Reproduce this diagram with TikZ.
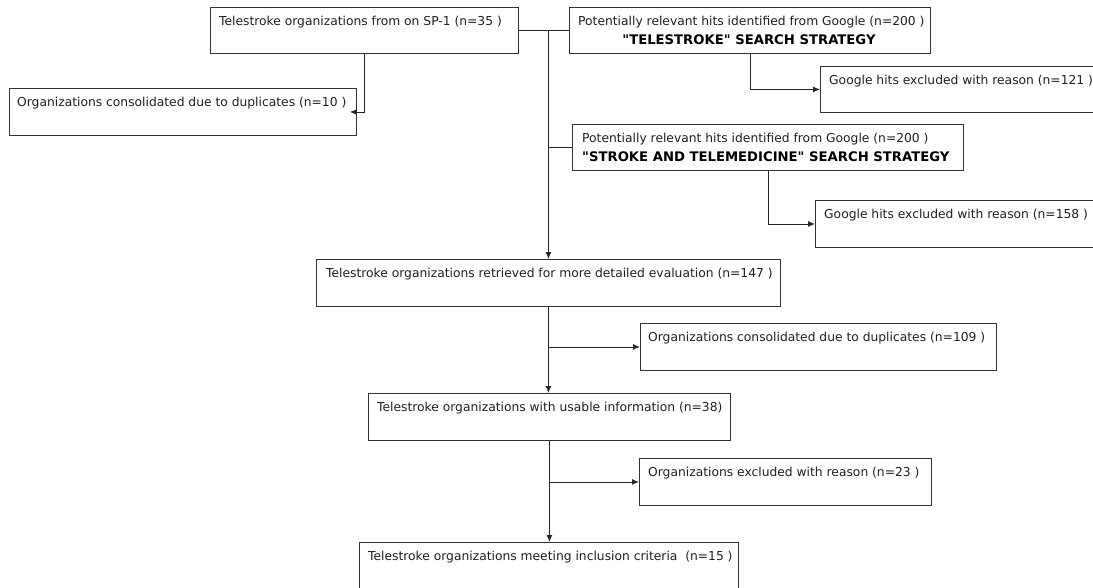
\documentclass[tikz,border=0pt]{standalone}
\usepackage{fontspec}
\setmainfont{DejaVu Sans}
\usetikzlibrary{arrows.meta}
\begin{document}
\begin{tikzpicture}[x=1pt,y=-1pt,
  box/.style={draw=black!80,line width=0.9pt,inner sep=0pt,anchor=north west},
  txt/.style={anchor=west,inner sep=0pt,text=black!88,font=\fontsize{12.3}{14}\selectfont},
  boldtxt/.style={inner sep=0pt,text=black,font=\fontsize{13.2}{15}\selectfont\bfseries},
  conn/.style={draw=black!85,line width=0.9pt},
  arr/.style={conn,-{Latex[length=7pt,width=6pt]}}]
\useasboundingbox (0,0) rectangle (1093,587);
\clip (0,0) rectangle (1093,587);
% boxes
\node[box,minimum width=308pt,minimum height=46pt] (A) at (210,7) {};
\node[box,minimum width=347pt,minimum height=47pt] (B) at (9,88) {};
\node[box,minimum width=361pt,minimum height=46pt] (C) at (569,7) {};
\node[box,minimum width=300pt,minimum height=46pt] (D) at (820,66) {};
\node[box,minimum width=391pt,minimum height=46pt] (E) at (572,124) {};
\node[box,minimum width=300pt,minimum height=47pt] (F) at (815,200) {};
\node[box,minimum width=464pt,minimum height=47pt] (G) at (316,259) {};
\node[box,minimum width=356pt,minimum height=47pt] (H) at (640,323) {};
\node[box,minimum width=362pt,minimum height=47pt] (I) at (368,393) {};
\node[box,minimum width=292pt,minimum height=47pt] (J) at (639,458) {};
\node[box,minimum width=379pt,minimum height=60pt] (K) at (359,542) {};
% texts
\node[txt] (At) at (219,22) {Telestroke organizations from on SP-1 (n=35 )};
\node[txt] (Bt) at (17,103) {Organizations consolidated due to duplicates (n=10 )};
\node[txt] (Ct1) at (578,22) {Potentially relevant hits identified from Google (n=200 )};
\node[boldtxt] (Ct2) at (749,40) {\textquotedbl TELESTROKE\textquotedbl\ SEARCH STRATEGY};
\node[txt] (Dt) at (829,81) {Google hits excluded with reason (n=121 )};
\node[txt] (Et1) at (582,139) {Potentially relevant hits identified from Google (n=200 )};
\node[boldtxt,anchor=west] (Et2) at (582,157) {\textquotedbl STROKE AND TELEMEDICINE\textquotedbl\ SEARCH STRATEGY};
\node[txt] (Ft) at (824,215) {Google hits excluded with reason (n=158 )};
\node[txt] (Gt) at (326,274) {Telestroke organizations retrieved for more detailed evaluation (n=147 )};
\node[txt] (Ht) at (648,338) {Organizations consolidated due to duplicates (n=109 )};
\node[txt] (It) at (377,408) {Telestroke organizations with usable information (n=38)};
\node[txt] (Jt) at (648,473) {Organizations excluded with reason (n=23 )};
\node[txt] (Kt) at (368,557) {Telestroke organizations meeting inclusion criteria\ \ (n=15 )};
% connectors
\draw[conn] (A.east) -- (A.east -| C.west);
\draw[arr] (A.east -| G.north) -- (G.north);
\draw[conn] (E.west -| G.north) -- (E.west);
\draw[arr] (A.south) |- ([xshift=-7pt]B.east);
\draw[arr] (C.south) |- (D.west);
\draw[arr] (E.south) |- (F.west);
\draw[arr] (G.south) -- (G.south |- I.north);
\draw[arr] (G.south |- H.west) -- (H.west);
\draw[arr] (I.south) -- (I.south |- K.north);
\draw[arr] (I.south |- J.west) -- (J.west);
\end{tikzpicture}
\end{document}
